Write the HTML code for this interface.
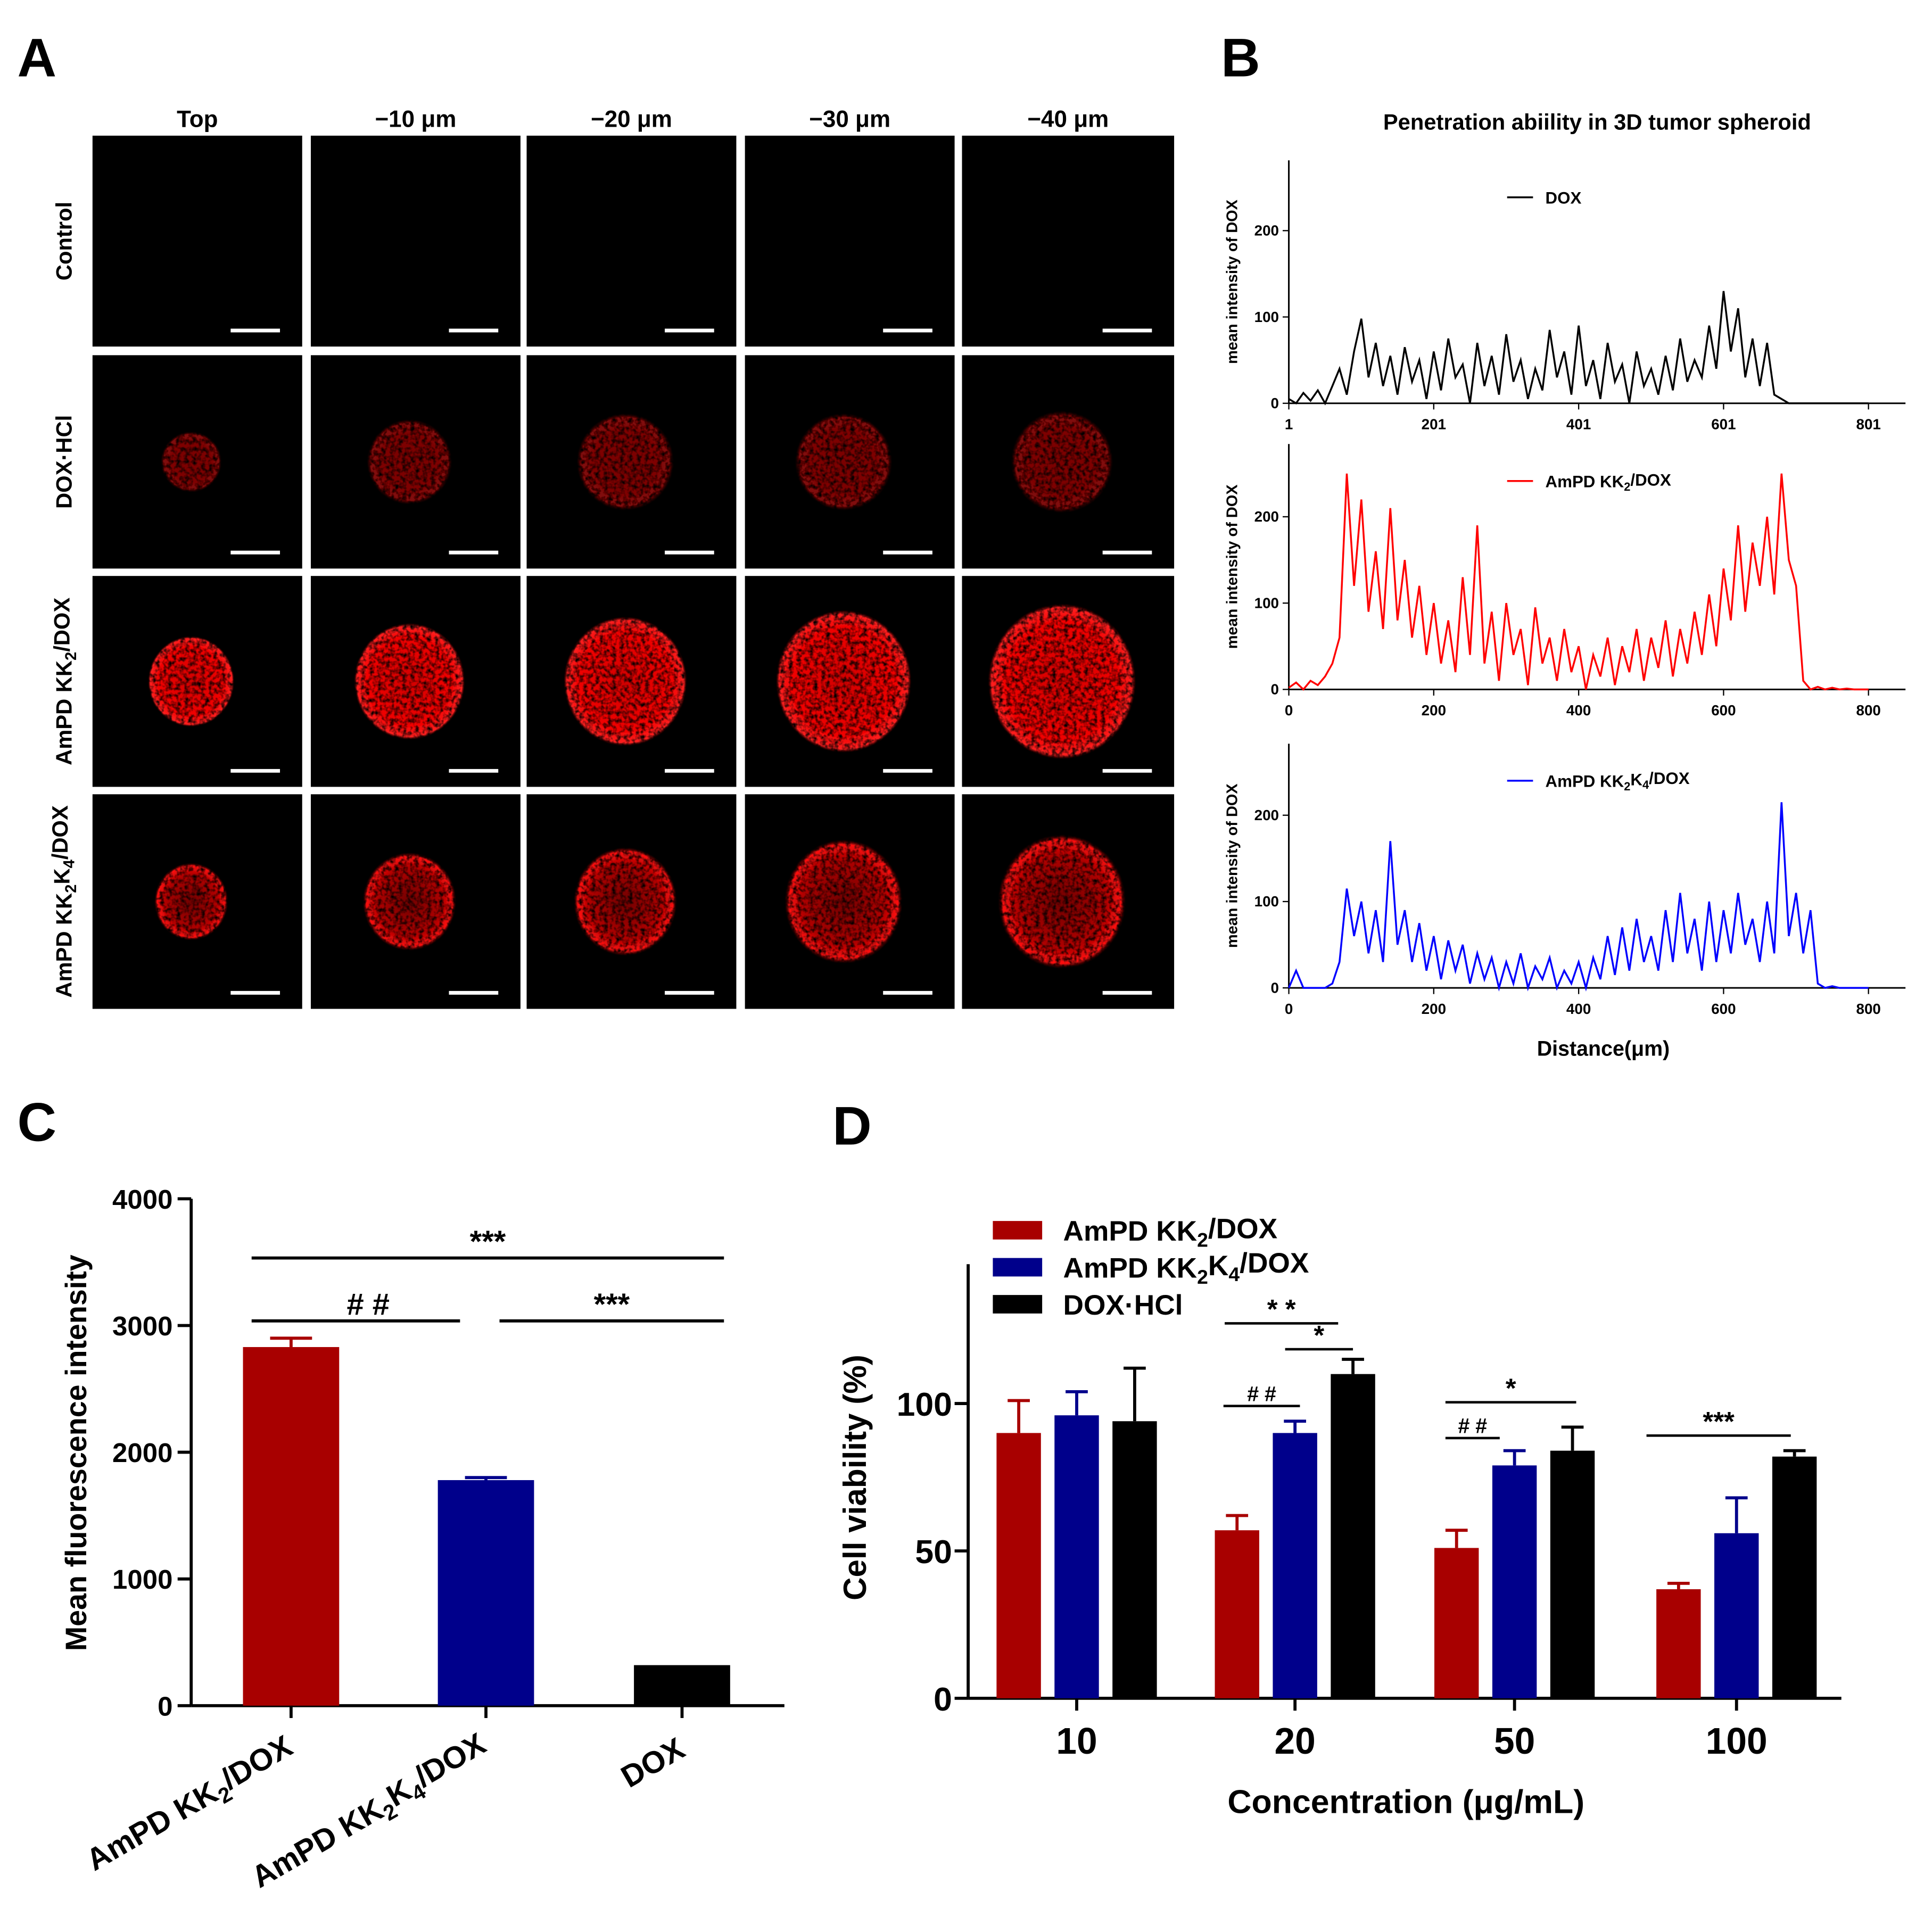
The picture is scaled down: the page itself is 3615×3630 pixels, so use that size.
<!DOCTYPE html>
<html><head><meta charset="utf-8">
<style>
html,body{margin:0;padding:0;background:#fff;}
svg{display:block;font-family:"Liberation Sans",Arial,sans-serif;}
</style></head>
<body>
<svg id="fig" width="3615" height="3630" viewBox="0 0 1560 1566.5" xmlns="http://www.w3.org/2000/svg">
<defs>
<radialGradient id="sph" cx="50%" cy="50%" r="50%">
<stop offset="0" stop-color="#d00000"/><stop offset="0.75" stop-color="#f00000"/><stop offset="0.95" stop-color="#ff2020"/><stop offset="1" stop-color="#600000" stop-opacity="0"/>
</radialGradient>
<radialGradient id="ring" cx="50%" cy="50%" r="50%">
<stop offset="0" stop-color="#700000"/><stop offset="0.7" stop-color="#b00000"/><stop offset="0.92" stop-color="#ff1010"/><stop offset="1" stop-color="#300000" stop-opacity="0"/>
</radialGradient>
<radialGradient id="dim" cx="50%" cy="50%" r="50%">
<stop offset="0" stop-color="#7a0000"/><stop offset="0.9" stop-color="#800808"/><stop offset="1" stop-color="#000" stop-opacity="0"/>
</radialGradient>
<filter id="tex" x="0" y="0" width="100%" height="100%"><feTurbulence type="fractalNoise" baseFrequency="0.3" numOctaves="2" seed="3" result="n"/><feColorMatrix in="n" type="matrix" values="0 0 0 0 0  0 0 0 0 0  0 0 0 0 0  2.2 0 0 0 -0.35" result="m"/><feComposite in="SourceGraphic" in2="m" operator="in"/></filter>
</defs>
<g id="panelA"></g>
<g id="panelB"></g>
<g id="panelC"></g>
<g id="panelD"></g>
</svg>
<script>
// ---------- data ----------
const colLabels = ["Top","\u221210 \u03bcm","\u221220 \u03bcm","\u221230 \u03bcm","\u221240 \u03bcm"];
const rowLabels = ["Control","DOX\u00b7HCl","AmPD KK2/DOX","AmPD KK2K4/DOX"];
const sphereRadiiKK2 = [35,45,50,55,60];
const sphereRadiiKK2K4 = [30,38,42,48,52];
const sphereRadiiHCl = [25,35,40,40,42];

const bStep = 10;
const doxSeries = [5,0,12,3,15,0,20,40,10,60,98,30,70,20,55,10,65,25,50,5,60,15,75,30,45,0,70,20,55,10,80,25,50,5,40,15,85,30,60,10,90,20,50,5,70,25,45,0,60,20,40,10,55,15,75,25,50,30,90,40,130,60,110,30,75,20,70,10,5,0,0,0,0,0,0,0,0,0,0,0,0];
const kk2Series = [2,8,0,10,5,15,30,60,250,120,220,90,160,70,210,80,150,60,120,40,100,30,80,20,130,40,190,30,90,10,100,40,70,5,95,30,60,10,70,20,50,0,40,15,60,5,50,20,70,10,60,25,80,15,70,30,90,40,110,50,140,80,190,90,170,120,200,110,250,150,120,10,0,3,0,2,0,1,0,0,0];
const kk2k4Series = [0,20,0,0,0,0,5,30,115,60,100,40,90,30,170,50,90,30,75,20,60,10,55,20,50,5,40,10,35,0,30,5,40,0,25,10,35,0,20,5,30,0,35,10,60,15,70,20,80,30,60,20,90,30,110,40,80,20,100,30,90,40,110,50,80,30,100,40,215,60,110,40,90,5,0,2,0,0,0,0,0];
const bXTicks1 = [1,201,401,601,801];
const bXTicks = [0,200,400,600,800];
const bYTicks = [0,100,200];

const cCategories = ["AmPD KK2/DOX","AmPD KK2K4/DOX","DOX"];
const cValues = [2830,1780,320];
const cErrors = [70,20,0];
const cYTicks = [0,1000,2000,3000,4000];

const dGroups = ["10","20","50","100"];
const dKK2 = [90,57,51,37];
const dKK2err = [11,5,6,2];
const dKK2K4 = [96,90,79,56];
const dKK2K4err = [8,4,5,12];
const dHCl = [94,110,84,82];
const dHClerr = [18,5,8,2];
const dYTicks = [0,50,100];

// ---------- helpers ----------
const NS="http://www.w3.org/2000/svg";
function mk(parent,tag,attrs,text){const e=document.createElementNS(NS,tag);for(const k in attrs)e.setAttribute(k,attrs[k]);if(text!==undefined)e.textContent=text;parent.appendChild(e);return e;}
function sub(parent,x,y,parts,attrs){
  const t=mk(parent,"text",Object.assign({x:x,y:y},attrs));
  parts.forEach(p=>{mk(t,"tspan",p[1]?{"font-size":"0.7em","dy":"0.3em"}:{"dy":p[2]||"0"},p[0]);});
  return t;}
function labelParts(lbl){
  if(lbl==="AmPD KK2/DOX")return [["AmPD KK"],["2",1],["/DOX",0,"-0.3em"]];
  if(lbl==="AmPD KK2K4/DOX")return [["AmPD KK"],["2",1],["K",0,"-0.3em"],["4",1],["/DOX",0,"-0.3em"]];
  return [[lbl]];}

// ---------- Panel A ----------
const A=document.getElementById("panelA");
let t=mk(A,"text",{x:14,y:62,"font-size":44,"font-weight":"bold"},"A");


const colX=[[75,245],[252,422],[427,597],[604,774],[780,952]];
const rowY=[[110,281],[288,461],[467,638],[644,818]];
colLabels.forEach((l,i)=>{const e=mk(A,"text",{x:(colX[i][0]+colX[i][1])/2,y:103,"font-size":19,"font-weight":"bold","text-anchor":"middle"},l);

});
rowLabels.forEach((l,r)=>{const cy=(rowY[r][0]+rowY[r][1])/2;
 const e=sub(A,0,0,labelParts(l),{"font-size":18,"font-weight":"bold","text-anchor":"middle",transform:`translate(58,${cy}) rotate(-90)`});
 
 });
rowY.forEach((ry,r)=>colX.forEach((cx,c)=>{
 const g=mk(A,"g",{});
 
 
 mk(g,"rect",{x:cx[0],y:ry[0],width:cx[1]-cx[0],height:ry[1]-ry[0],fill:"#000"});
 const mx=(cx[0]+cx[1])/2-5, my=(ry[0]+ry[1])/2;
 if(r===1){mk(g,"circle",{cx:mx,cy:my,r:sphereRadiiHCl[c],fill:"url(#dim)",filter:"url(#tex)"});}
 if(r===2){mk(g,"ellipse",{cx:mx,cy:my,rx:sphereRadiiKK2[c],ry:sphereRadiiKK2[c]*1.05,fill:"url(#sph)",filter:"url(#tex)"});}
 if(r===3){mk(g,"ellipse",{cx:mx,cy:my,rx:sphereRadiiKK2K4[c],ry:sphereRadiiKK2K4[c]*1.05,fill:"url(#ring)",filter:"url(#tex)"});}
 const sb=mk(g,"line",{x1:cx[1]-58,x2:cx[1]-18,y1:ry[1]-13,y2:ry[1]-13,stroke:"#fff","stroke-width":3});
 
 
}));

// ---------- Panel B ----------
const B=document.getElementById("panelB");
t=mk(B,"text",{x:990,y:62,"font-size":44,"font-weight":"bold"},"B");


t=mk(B,"text",{x:1295,y:105,"font-size":18,"font-weight":"bold","text-anchor":"middle"},"Penetration abiility in 3D tumor spheroid");


const bx0=1045,bxk=(1515-1045)/800;
const bx=v=>bx0+v*bxk;
const plots=[{base:327,top:130,series:doxSeries,color:"#000",legend:[["DOX"]],ticks:bXTicks1,tickOff:-1,name:"dox"},
 {base:559,top:360,series:kk2Series,color:"#ff0000",legend:labelParts("AmPD KK2/DOX"),ticks:bXTicks,tickOff:0,name:"kk2"},
 {base:801,top:603,series:kk2k4Series,color:"#0000ff",legend:labelParts("AmPD KK2K4/DOX"),ticks:bXTicks,tickOff:0,name:"kk2k4"}];
plots.forEach(p=>{
 const g=mk(B,"g",{});
 
 
 const by=v=>p.base-v*0.7;
 mk(g,"line",{x1:bx0,x2:bx0,y1:p.top,y2:p.base,stroke:"#000","stroke-width":1.3});
 mk(g,"line",{x1:bx0,x2:1545,y1:p.base,y2:p.base,stroke:"#000","stroke-width":1.3});
 bYTicks.forEach(v=>{mk(g,"line",{x1:bx0-5,x2:bx0,y1:by(v),y2:by(v),stroke:"#000"});
  const e=mk(g,"text",{x:bx0-8,y:by(v)+4,"font-size":12,"font-weight":"bold","text-anchor":"end"},v);
  
  });
 p.ticks.forEach(v=>{const xv=bx(v+p.tickOff);mk(g,"line",{x1:xv,x2:xv,y1:p.base,y2:p.base+5,stroke:"#000"});
  const e=mk(g,"text",{x:xv,y:p.base+21,"font-size":12,"font-weight":"bold","text-anchor":"middle"},v);
  
  });
 const yl=mk(g,"text",{"font-size":12.5,"font-weight":"bold","text-anchor":"middle",transform:`translate(1003,${(p.top+p.base)/2}) rotate(-90)`},"mean intensity of DOX");
 
 
 let d="";p.series.forEach((v,i)=>{d+=(i?"L":"M")+bx(i*bStep).toFixed(1)+","+by(v).toFixed(1);});
 const ln=mk(g,"path",{d:d,fill:"none",stroke:p.color,"stroke-width":1.5});
 
 
 const ly=p.top+30;
 mk(g,"line",{x1:1222,x2:1243,y1:ly,y2:ly,stroke:p.color,"stroke-width":1.5});
 const le=sub(g,1253,ly+5,p.legend,{"font-size":13.5,"font-weight":"bold"});
 
 
});
t=mk(B,"text",{x:1300,y:856,"font-size":17,"font-weight":"bold","text-anchor":"middle"},"Distance(\u03bcm)");



// ---------- Panel C ----------
const C=document.getElementById("panelC");
t=mk(C,"text",{x:14,y:925,"font-size":44,"font-weight":"bold"},"C");


const cY0=1383,cK=(1383-972)/4000;const cy=v=>cY0-v*cK;
const cCenters=[236,394,553];const cColors=["#a80000","#00008b","#000"];
mk(C,"line",{x1:155,x2:155,y1:972,y2:cY0,stroke:"#000","stroke-width":2.5});
mk(C,"line",{x1:155,x2:636,y1:cY0,y2:cY0,stroke:"#000","stroke-width":2.5});
cYTicks.forEach(v=>{mk(C,"line",{x1:144,x2:155,y1:cy(v),y2:cy(v),stroke:"#000","stroke-width":2.5});
 const e=mk(C,"text",{x:140,y:cy(v)+8,"font-size":22,"font-weight":"bold","text-anchor":"end"},v);
 
 });
t=mk(C,"text",{"font-size":24,"font-weight":"bold","text-anchor":"middle",transform:`translate(70,1178) rotate(-90)`},"Mean fluorescence intensity");


cCategories.forEach((c,i)=>{const x=cCenters[i];
 const b=mk(C,"rect",{x:x-39,y:cy(cValues[i]),width:78,height:cY0-cy(cValues[i]),fill:cColors[i]});
 
 
 if(cErrors[i]){mk(C,"line",{x1:x,x2:x,y1:cy(cValues[i]+cErrors[i]),y2:cy(cValues[i]),stroke:cColors[i],"stroke-width":2.5});
  mk(C,"line",{x1:x-17,x2:x+17,y1:cy(cValues[i]+cErrors[i]),y2:cy(cValues[i]+cErrors[i]),stroke:cColors[i],"stroke-width":2.5});}
 mk(C,"line",{x1:x,x2:x,y1:cY0,y2:cY0+10,stroke:"#000","stroke-width":2.5});
 const e=sub(C,0,0,labelParts(c),{"font-size":25,"font-weight":"bold","text-anchor":"end",transform:`translate(${x+4},${cY0+40}) rotate(-30)`});
 
 
});
[[204,587,1020,"***"],[204,373,1071,"# #"],[405,587,1071,"***"]].forEach(s=>{
 mk(C,"line",{x1:s[0],x2:s[1],y1:s[2],y2:s[2],stroke:"#000","stroke-width":2.5});
 const e=mk(C,"text",{x:(s[0]+s[1])/2+(s[3]==="# #"?10:0),y:s[2]-5,"font-size":25,"font-weight":"bold","text-anchor":"middle"},s[3]);
 
 });

// ---------- Panel D ----------
const D=document.getElementById("panelD");
t=mk(D,"text",{x:675,y:928,"font-size":44,"font-weight":"bold"},"D");


const dY0=1377,dK=(1377-1138)/100;const dy=v=>dY0-v*dK;
const dCenters=[873,1050,1228,1408];
mk(D,"line",{x1:785,x2:785,y1:1025,y2:dY0,stroke:"#000","stroke-width":2.5});
mk(D,"line",{x1:785,x2:1493,y1:dY0,y2:dY0,stroke:"#000","stroke-width":2.5});
dYTicks.forEach(v=>{mk(D,"line",{x1:774,x2:785,y1:dy(v),y2:dy(v),stroke:"#000","stroke-width":2.5});
 const e=mk(D,"text",{x:772,y:dy(v)+10,"font-size":27,"font-weight":"bold","text-anchor":"end"},v);
 
 });
t=mk(D,"text",{"font-size":26,"font-weight":"bold","text-anchor":"middle",transform:`translate(702,1198) rotate(-90)`},"Cell viability (%)");


const dSeries=[[dKK2,dKK2err,"#a80000",-47],[dKK2K4,dKK2K4err,"#00008b",0],[dHCl,dHClerr,"#000",47]];
dGroups.forEach((g,i)=>{
 dSeries.forEach((s,k)=>{const x=dCenters[i]+s[3];const v=s[0][i],er=s[1][i];
  const b=mk(D,"rect",{x:x-18,y:dy(v),width:36,height:dY0-dy(v),fill:s[2]});
  
  
  mk(D,"line",{x1:x,x2:x,y1:dy(v+er),y2:dy(v),stroke:s[2],"stroke-width":2.5});
  mk(D,"line",{x1:x-9,x2:x+9,y1:dy(v+er),y2:dy(v+er),stroke:s[2],"stroke-width":2.5});
 });
 mk(D,"line",{x1:dCenters[i],x2:dCenters[i],y1:dY0,y2:dY0+10,stroke:"#000","stroke-width":2.5});
 const e=mk(D,"text",{x:dCenters[i],y:1422,"font-size":30,"font-weight":"bold","text-anchor":"middle"},g);
 
 
});
t=mk(D,"text",{x:1140,y:1470,"font-size":27,"font-weight":"bold","text-anchor":"middle"},"Concentration (\u03bcg/mL)");


[["AmPD KK2/DOX","#a80000",998],["AmPD KK2K4/DOX","#00008b",1028],["DOX\u00b7HCl","#000",1058]].forEach(l=>{
 mk(D,"rect",{x:805,y:l[2]-8,width:40,height:15,fill:l[1]});
 const e=sub(D,862,l[2]+8,labelParts(l[0]),{"font-size":23,"font-weight":"bold"});
 
 });
[[993,1085,1073,"* *"],[1042,1097,1094,"*"],[992,1054,1140,"# #"],[1172,1278,1137,"*"],[1172,1216,1166,"# #"],[1335,1452,1164,"***"]].forEach(s=>{
 mk(D,"line",{x1:s[0],x2:s[1],y1:s[2],y2:s[2],stroke:"#000","stroke-width":2});
 const e=mk(D,"text",{x:(s[0]+s[1])/2,y:s[2]-4,"font-size":s[3].includes("#")?17:22,"font-weight":"bold","text-anchor":"middle"},s[3]);
 
 });
</script>
</body></html>
